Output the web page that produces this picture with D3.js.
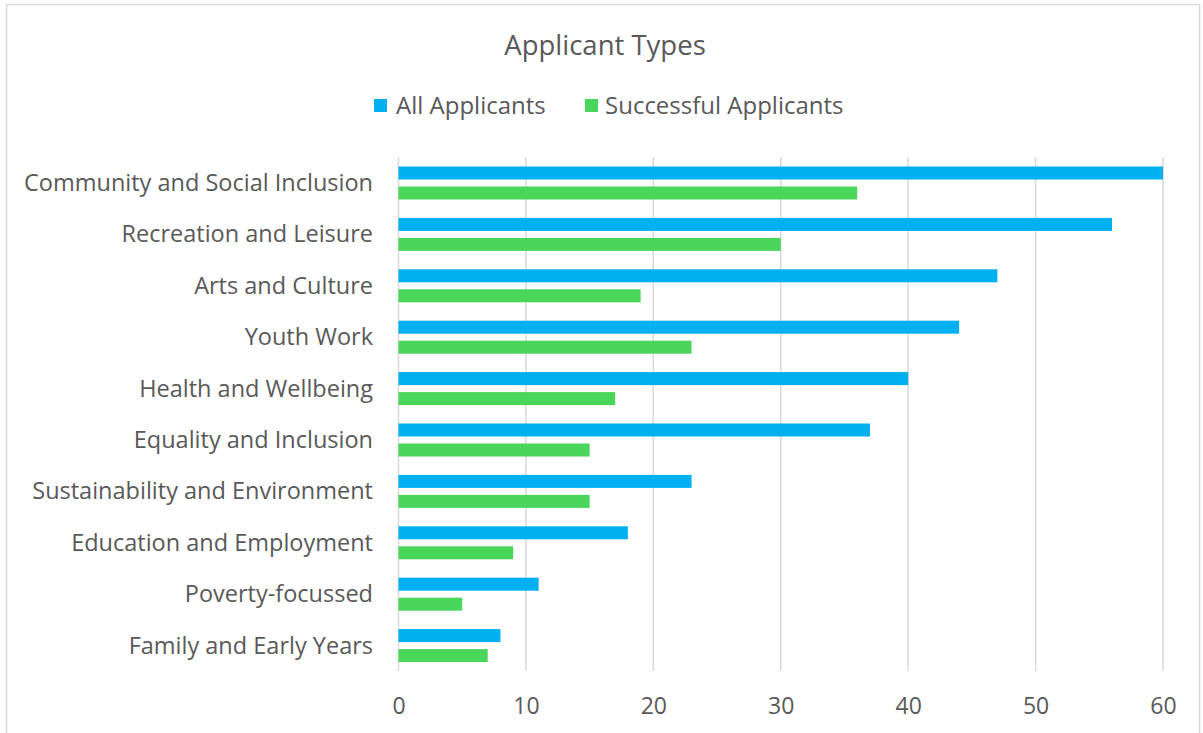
<!DOCTYPE html>
<html><head><meta charset="utf-8">
<script src="https://cdn.jsdelivr.net/npm/d3@7"></script>
<style>body{margin:0;background:#fff;} svg{display:block;}</style>
</head><body>
<script>
const categories = ["Community and Social Inclusion","Recreation and Leisure","Arts and Culture","Youth Work","Health and Wellbeing","Equality and Inclusion","Sustainability and Environment","Education and Employment","Poverty-focussed","Family and Early Years"];
const allApplicants = [60,56,47,44,40,37,23,18,11,8];
const successfulApplicants = [36,30,19,23,17,15,15,9,5,7];
const seriesNames = ["All Applicants","Successful Applicants"];
const seriesColors = ["#00B0F0","#4AD55B"];
const xTicks = [0,10,20,30,40,50,60];

const W=1203,H=733;
const svg=d3.select("body").append("svg").attr("width",W).attr("height",H);
const font="'Open Sans', sans-serif";
const txt="#595959";
svg.append("rect").attr("x",6.5).attr("y",4.5).attr("width",1193).attr("height",740).attr("fill","#fff").attr("stroke","#d9d9d9").attr("stroke-width",1.5);

const x=d3.scaleLinear().domain([0,60]).range([398.5,1163]);
const y=d3.scaleBand().domain(categories).range([157,671]);
const inner=d3.scaleBand().domain(seriesNames).range([9.5,42.5]).paddingInner(0.35);

svg.append("g").selectAll("line").data(xTicks).join("line")
  .attr("x1",d=>x(d)).attr("x2",d=>x(d)).attr("y1",157).attr("y2",671)
  .attr("stroke","#d9d9d9").attr("stroke-width",1.5);

const data=categories.map((c,i)=>({c,vals:[allApplicants[i],successfulApplicants[i]]}));
const g=svg.append("g");
data.forEach(d=>{
  seriesNames.forEach((s,j)=>{
    g.append("rect").attr("x",x(0)).attr("y",y(d.c)+inner(s))
     .attr("width",x(d.vals[j])-x(0)).attr("height",inner.bandwidth())
     .attr("fill",seriesColors[j]);
  });
});

const xa=svg.append("g").attr("transform","translate(0,671)").call(d3.axisBottom(x).tickValues(xTicks).tickSize(0).tickPadding(0));
xa.select(".domain").remove();
xa.selectAll("text").attr("dy","0.35em").attr("y",35).attr("font-family",font).attr("font-size",23).attr("fill",txt);

const ya=svg.append("g").attr("transform","translate(373,0)").call(d3.axisLeft(y).tickSize(0).tickPadding(0));
ya.select(".domain").remove();
ya.selectAll("text").attr("x",0).attr("dy","0.35em").attr("font-family",font).attr("font-size",23.5).attr("fill",txt);

svg.append("text").attr("x",605).attr("y",45).attr("dy","0.35em").attr("text-anchor","middle").attr("font-family",font).attr("font-size",27.5).attr("fill",txt).text("Applicant Types");

const lg=[{x:374,tx:396},{x:585,tx:605}];
seriesNames.forEach((s,j)=>{
  svg.append("rect").attr("x",lg[j].x).attr("y",99).attr("width",13).attr("height",13).attr("fill",seriesColors[j]);
  svg.append("text").attr("x",lg[j].tx).attr("y",106).attr("dy","0.35em").attr("font-family",font).attr("font-size",24).attr("fill",txt).text(s);
});
</script>
</body></html>
